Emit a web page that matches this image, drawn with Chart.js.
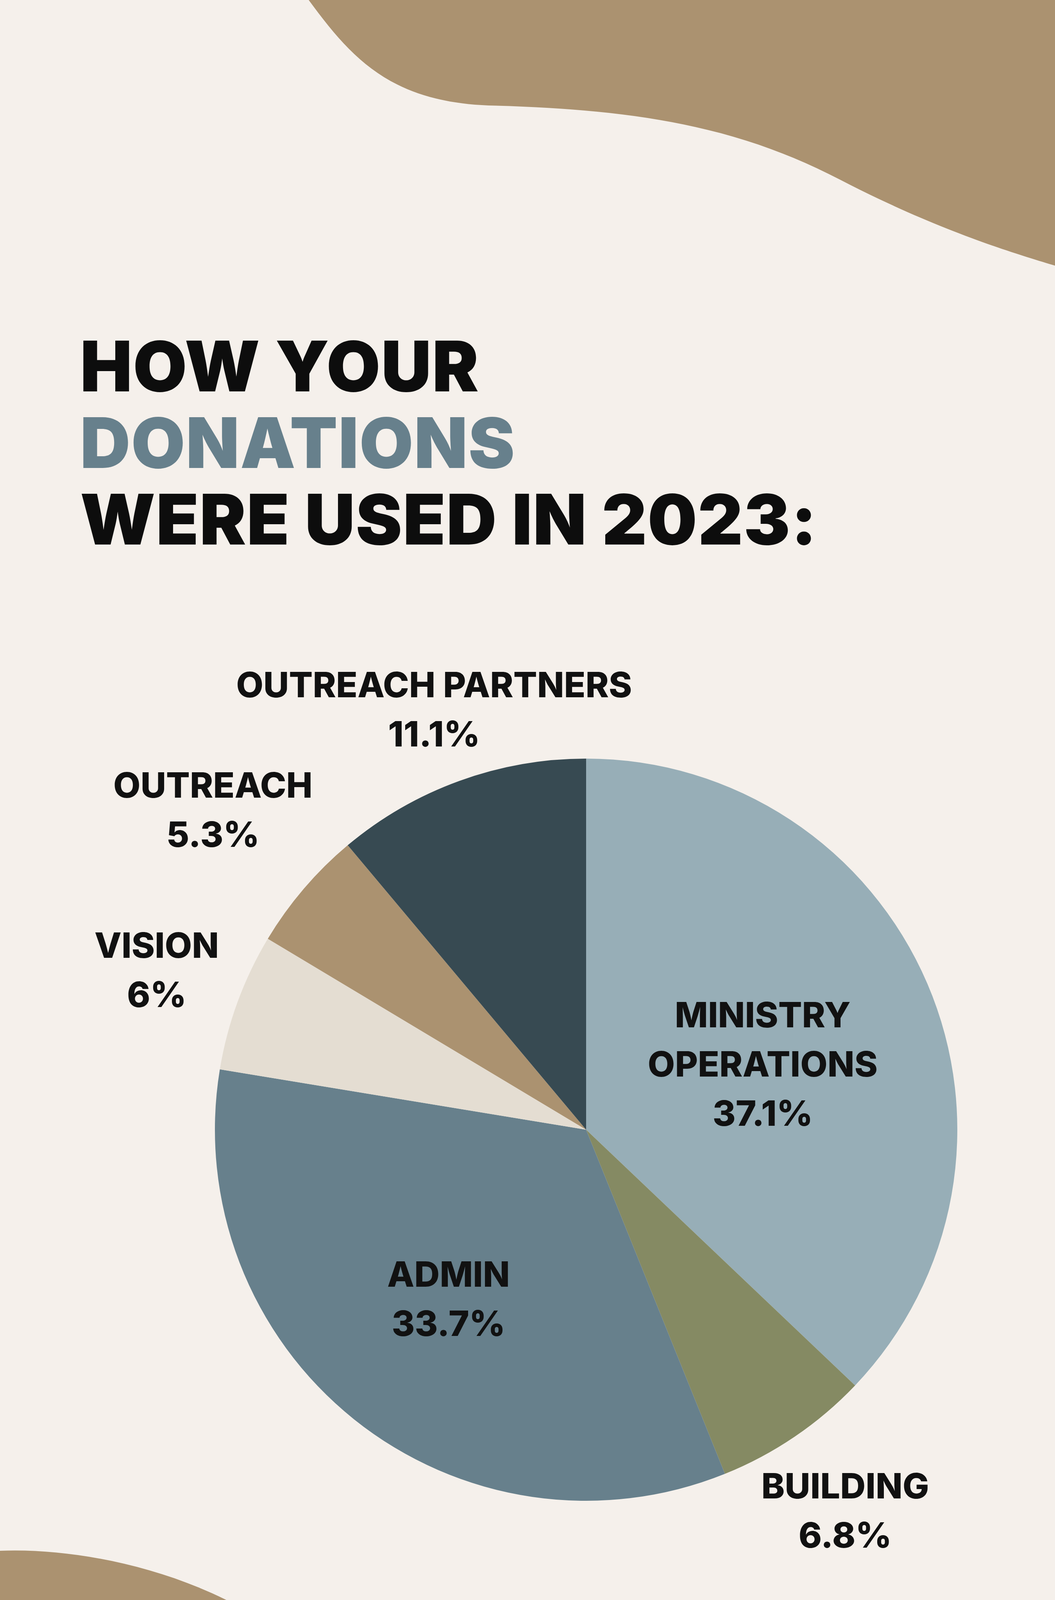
<!DOCTYPE html>
<html lang="en">
  <head>
    <meta charset="UTF-8" />
    <title>How Your Donations Were Used in 2023</title>
    <script src="https://cdn.jsdelivr.net/npm/chart.js@4.4.0/dist/chart.umd.min.js"></script>
    <style>
      body {
        margin: 0;
        width: 2700px;
        height: 4799px;
        background: #f5f0eb;
        position: relative;
        overflow: hidden;
        font-family: "Inter", "Roboto", sans-serif;
      }
      svg.bg {
        position: absolute;
        left: 0;
        top: 0;
      }
      .title {
        position: absolute;
        left: 205px;
        top: 840px;
        font-weight: 900;
        font-size: 178px;
        line-height: 196px;
        color: #0d0d0d;
        letter-spacing: 2px;
      }
      .title .blue {
        color: #67808c;
      }
      .chart-box {
        position: absolute;
        left: 550px;
        top: 1942px;
        width: 1900px;
        height: 1900px;
      }
      .lbl {
        position: absolute;
        transform: translateX(-50%);
        text-align: center;
        font-weight: 800;
        font-size: 90px;
        line-height: 126px;
        color: #111;
        white-space: nowrap;
      }
    </style>
  </head>
  <body>
    <svg class="bg" width="2700" height="4799">
      <path fill="#ab9270" d="M790 0 C 900 150, 1000 260, 1250 270 C 1650 280, 1900 330, 2150 460 C 2400 590, 2600 650, 2700 680 L2700 0 Z" />
      <path fill="#ab9270" d="M0 3970 C 250 3960, 600 4050, 800 4250 C 1000 4450, 1100 4700, 1450 4680 C 1800 4660, 2000 4440, 2400 4470 C 2550 4480, 2650 4560, 2700 4650 L2700 4799 L0 4799 Z" />
    </svg>

    <div class="title">HOW YOUR<br /><span class="blue">DONATIONS</span><br />WERE USED IN 2023:</div>

    <div class="chart-box"><canvas id="pie" width="1900" height="1900"></canvas></div>

    <div class="lbl" style="left: 1111px; top: 1690px">OUTREACH PARTNERS<br />11.1%</div>
    <div class="lbl" style="left: 545px; top: 1947px">OUTREACH<br />5.3%</div>
    <div class="lbl" style="left: 401px; top: 2357px">VISION<br />6%</div>
    <div class="lbl" style="left: 1952px; top: 2535px">MINISTRY<br />OPERATIONS<br />37.1%</div>
    <div class="lbl" style="left: 1148px; top: 3199px">ADMIN<br />33.7%</div>
    <div class="lbl" style="left: 2163px; top: 3741px">BUILDING<br />6.8%</div>

    <script>
      const categories = ["Ministry Operations", "Building", "Admin", "Vision", "Outreach", "Outreach Partners"];
      const shares = [37.1, 6.8, 33.7, 6, 5.3, 11.1];
      const colors = ["#97aeb7", "#858a63", "#67808c", "#e4ddd2", "#ab9270", "#374a52"];

      new Chart(document.getElementById("pie"), {
        type: "pie",
        data: {
          labels: categories,
          datasets: [
            {
              data: shares,
              backgroundColor: colors,
              borderWidth: 0,
            },
          ],
        },
        options: {
          responsive: false,
          animation: false,
          layout: { padding: 0 },
          plugins: {
            legend: { display: false },
            tooltip: { enabled: false },
          },
        },
      });
    </script>
  </body>
